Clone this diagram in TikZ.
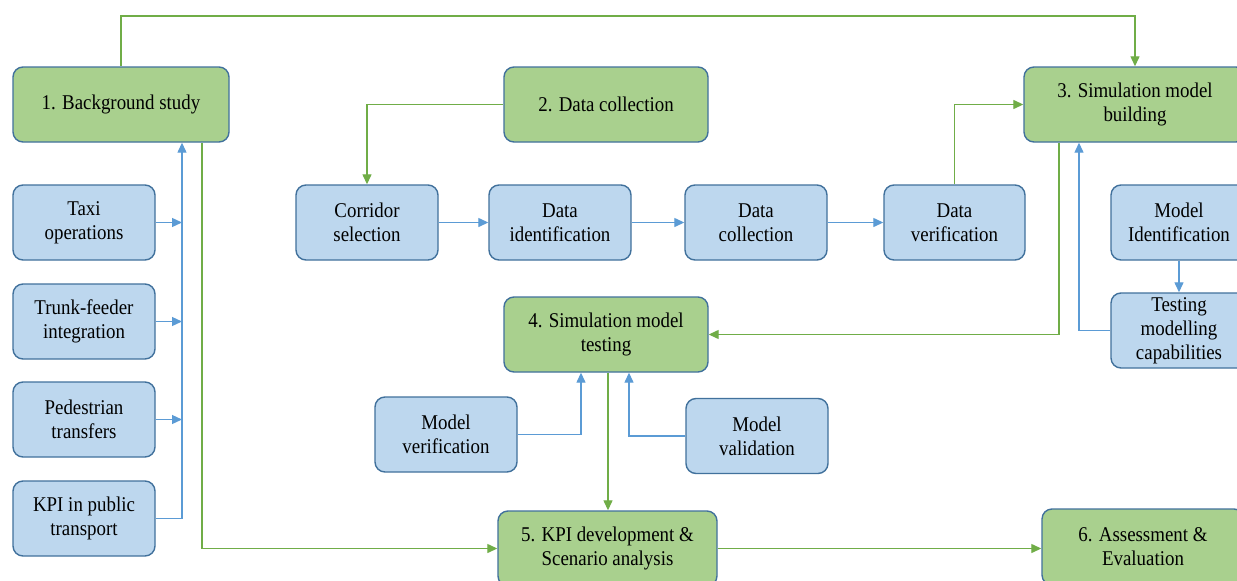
\documentclass[tikz,border=0pt]{standalone}
\usepackage{fontspec}
\setmainfont{Liberation Serif}[FakeStretch=0.9]
\usetikzlibrary{arrows.meta,calc}
\definecolor{gfill}{HTML}{A9D08E}
\definecolor{bfill}{HTML}{BDD7EE}
\definecolor{bordc}{HTML}{41719C}
\definecolor{gline}{HTML}{70AD47}
\definecolor{bline}{HTML}{5B9BD5}
\tikzset{
  box/.style={draw=bordc, line width=1.4pt, rounded corners=10pt, align=center,
    font=\fontsize{21}{24}\selectfont, inner sep=0pt},
  gbox/.style={box, fill=gfill},
  bbox/.style={box, fill=bfill},
  gcon/.style={draw=gline, line width=1.3pt, -{Triangle[length=10pt,width=9pt]}},
  bcon/.style={draw=bline, line width=1.3pt, -{Triangle[length=10pt,width=9pt]}},
}
\begin{document}
\begin{tikzpicture}[x=1pt,y=-1pt]
\useasboundingbox (0,0) rectangle (1237,581);
\clip (0,0) rectangle (1237,581);
\fill[white] (0,0) rectangle (1237,581);
% green step boxes
\node[gbox, minimum width=216pt, minimum height=75pt] (b1) at (121,104.5) {1. Background study};
\node[gbox, minimum width=204pt, minimum height=75pt] (b2) at (606,104.5) {2. Data collection};
\node[gbox, minimum width=222pt, minimum height=75pt] (b3) at (1135,104.5) {3. Simulation model\\building};
\node[gbox, minimum width=204pt, minimum height=75pt] (b4) at (606,334.5) {4. Simulation model\\testing};
\node[gbox, minimum width=219pt, minimum height=75pt] (b5) at (607.5,548.5) {5. KPI development \&\\Scenario analysis};
\node[gbox, minimum width=202pt, minimum height=76pt] (b6) at (1143,547) {6. Assessment \&\\Evaluation};
% blue boxes
\node[bbox, minimum width=142pt, minimum height=75pt] (taxi) at (84,222.5) {Taxi\\operations};
\node[bbox, minimum width=142pt, minimum height=75pt] (trunk) at (84,321.5) {Trunk-feeder\\integration};
\node[bbox, minimum width=142pt, minimum height=75pt] (ped) at (84,419.5) {Pedestrian\\transfers};
\node[bbox, minimum width=142pt, minimum height=75pt] (kpi) at (84,518.5) {KPI in public\\transport};
\node[bbox, minimum width=142pt, minimum height=75pt] (corr) at (367,222.5) {Corridor\\selection};
\node[bbox, minimum width=142pt, minimum height=75pt] (did) at (560,222.5) {Data\\identification};
\node[bbox, minimum width=142pt, minimum height=75pt] (dcol) at (756,222.5) {Data\\collection};
\node[bbox, minimum width=141pt, minimum height=75pt] (dver) at (954.5,222.5) {Data\\verification};
\node[bbox, minimum width=136pt, minimum height=75pt] (mid) at (1179,222.5) {Model\\Identification};
\node[bbox, minimum width=136pt, minimum height=75pt] (tmc) at (1179,330.5) {Testing\\modelling\\capabilities};
\node[bbox, minimum width=142pt, minimum height=75pt] (mver) at (446,434.5) {Model\\verification};
\node[bbox, minimum width=142pt, minimum height=75pt] (mval) at (757,436) {Model\\validation};
% helper coordinates
\coordinate (top) at (0,16);
\coordinate (bus) at (182,0);
\coordinate (gx) at (202,0);
\coordinate (g3) at (1059,0);
\coordinate (b3in) at (1079,0);
\coordinate (vin) at (581,0);
\coordinate (lin) at (629,0);
\coordinate (c45) at (608,0);
% green connectors
\draw[gcon] (b1.north) -- (b1.north |- top) -- (b3.north |- top) -- (b3.north);
\draw[gcon] (b2.west) -| (corr.north);
\draw[gcon] (dver.north) |- (b3.west);
\draw[gcon] (gx |- b1.south) |- (b5.west);
\draw[gcon] (g3 |- b3.south) |- (b4.east);
\draw[gcon] (c45 |- b4.south) -- (c45 |- b5.north);
\draw[gcon] (b5.east) -- (b5.east -| b6.west);
% blue connectors
\draw[bcon] (corr.east) -- (did.west);
\draw[bcon] (did.east) -- (dcol.west);
\draw[bcon] (dcol.east) -- (dver.west);
\draw[bcon] (taxi.east) -- (bus |- taxi.east);
\draw[bcon] (trunk.east) -- (bus |- trunk.east);
\draw[bcon] (ped.east) -- (bus |- ped.east);
\draw[bcon] (kpi.east) -| (bus |- b1.south);
\draw[bcon] (mid.south) -- (tmc.north);
\draw[bcon] (tmc.west) -| (b3in |- b3.south);
\draw[bcon] (mver.east) -| (vin |- b4.south);
\draw[bcon] (mval.west) -| (lin |- b4.south);
\end{tikzpicture}
\end{document}
